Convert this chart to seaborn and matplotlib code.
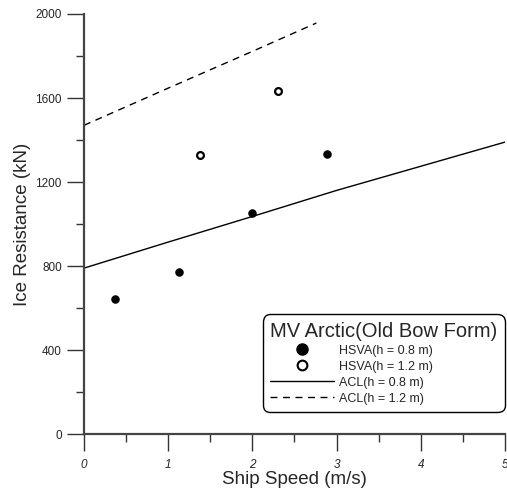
import numpy as np
import pandas as pd
import matplotlib
matplotlib.use("Agg")
import matplotlib.pyplot as plt
from matplotlib.lines import Line2D
from matplotlib.ticker import MultipleLocator
import seaborn as sns

# Model test results (HSVA) for two ice thicknesses
hsva_08_speed = [0.37, 1.13, 2.00, 2.89]
hsva_08_res = [642, 770, 1052, 1333]
hsva_12_speed = [1.38, 2.31]
hsva_12_res = [1330, 1633]

# ACL predictions
acl_08_speed = [0.0, 1.0, 2.0, 3.0, 4.0, 5.0]
acl_08_res = [790, 914, 1036, 1160, 1275, 1390]
acl_12_speed = [0.0, 1.0, 2.0, 2.76]
acl_12_res = [1470, 1647, 1822, 1957]

x_ticks = [0, 1, 2, 3, 4, 5]
y_ticks = [0, 400, 800, 1200, 1600, 2000]

sns.set_style("white")
plt.rcParams["font.family"] = ["Liberation Sans", "DejaVu Sans"]

fig = plt.figure(figsize=(5.07, 4.91), dpi=100)
ax = fig.add_axes([0.1657, 0.116, 0.8303, 0.8555])

pts08 = pd.DataFrame({"speed": hsva_08_speed, "res": hsva_08_res})
pts12 = pd.DataFrame({"speed": hsva_12_speed, "res": hsva_12_res})
ln08 = pd.DataFrame({"speed": acl_08_speed, "res": acl_08_res})
ln12 = pd.DataFrame({"speed": acl_12_speed, "res": acl_12_res})

dash = (0, (5, 4))

sns.lineplot(data=ln08, x="speed", y="res", ax=ax, color="black", lw=1.0)
sns.lineplot(data=ln12, x="speed", y="res", ax=ax, color="black", lw=1.0,
             linestyle=dash)
sns.scatterplot(data=pts08, x="speed", y="res", ax=ax, color="black",
                s=28, marker="o", edgecolor="black", linewidth=0.8, zorder=3)
sns.scatterplot(data=pts12, x="speed", y="res", ax=ax, facecolor="white",
                s=24, marker="o", edgecolor="black", linewidth=1.6, zorder=3)

ax.set_xlim(0, 5)
ax.set_ylim(0, 2000)
ax.set_xticks(x_ticks)
ax.set_yticks(y_ticks)
ax.xaxis.set_minor_locator(MultipleLocator(0.5))
ax.yaxis.set_minor_locator(MultipleLocator(200))
ax.set_xticklabels([str(v) for v in x_ticks], fontstyle="italic", fontsize=8.5)
ax.set_yticklabels([str(v) for v in y_ticks], fontsize=8.5)
ax.tick_params(axis="both", which="major", direction="out", length=12,
               width=1.0, color="#333333", bottom=True, left=True, pad=4)
ax.tick_params(axis="both", which="minor", direction="out", length=6,
               width=1.0, color="#333333", bottom=True, left=True)
ax.tick_params(axis="x", which="major", pad=6)

for side in ("top", "right"):
    ax.spines[side].set_visible(False)
for side in ("left", "bottom"):
    ax.spines[side].set_color("#444444")
    ax.spines[side].set_linewidth(1.6)

ax.set_xlabel("Ship Speed (m/s)", fontsize=13.5, labelpad=0)
ax.set_ylabel("Ice Resistance (kN)", fontsize=13.5, labelpad=3)

handles = [
    Line2D([], [], marker="o", color="black", ls="none", markersize=8),
    Line2D([], [], marker="o", mfc="white", mec="black", mew=1.5, ls="none",
           markersize=7),
    Line2D([], [], color="black", lw=1.0),
    Line2D([], [], color="black", lw=1.0, ls=dash),
]
labels = ["HSVA(h = 0.8 m)", "HSVA(h = 1.2 m)", "ACL(h = 0.8 m)",
          "ACL(h = 1.2 m)"]
leg = ax.legend(handles, labels, title="MV Arctic(Old Bow Form)",
                loc="lower right", bbox_to_anchor=(1.0, 0.052),
                fontsize=9, title_fontsize=14.5, frameon=True,
                fancybox=True, edgecolor="black", framealpha=1,
                handlelength=5.1, handletextpad=0.4, labelspacing=0.32,
                borderpad=0.6, borderaxespad=0.0, alignment="left")
leg.get_frame().set_linewidth(1.0)
leg.get_frame().set_boxstyle("round,pad=0.0,rounding_size=0.6")

fig.savefig("out.png", dpi=100)
